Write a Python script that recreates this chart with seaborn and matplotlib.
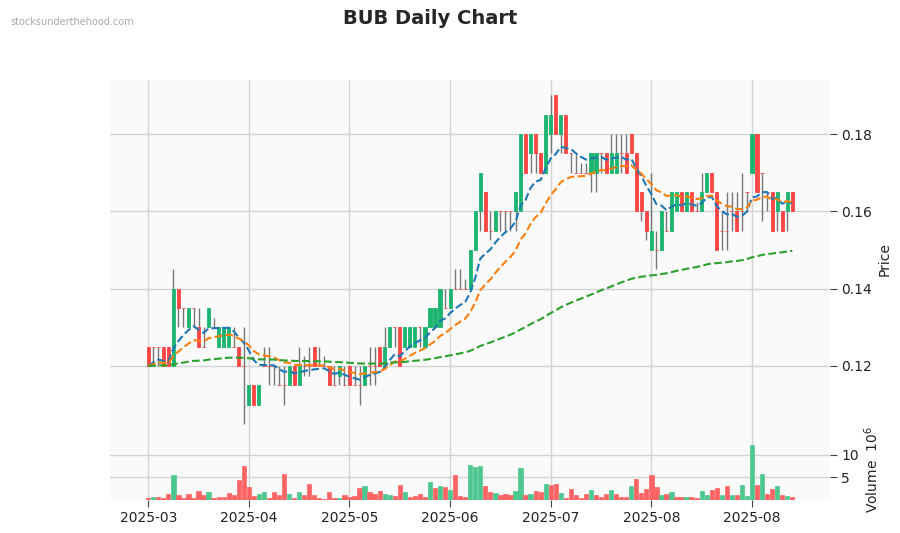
import numpy as np
import pandas as pd
import matplotlib
matplotlib.use("Agg")
import matplotlib.pyplot as plt
import seaborn as sns

# daily OHLC (one row per trading day)
opens = [0.125, 0.125, 0.125, 0.125, 0.125, 0.12, 0.14, 0.135, 0.13, 0.135,
         0.13, 0.125, 0.13, 0.13, 0.125, 0.125, 0.125, 0.125, 0.125, 0.12,
         0.11, 0.115, 0.11, 0.12, 0.12, 0.12, 0.115, 0.115, 0.115, 0.12,
         0.115, 0.12, 0.12, 0.125, 0.12, 0.12, 0.12, 0.115, 0.1175, 0.115,
         0.12, 0.115, 0.115, 0.115, 0.12, 0.12, 0.125, 0.12, 0.125, 0.13,
         0.13, 0.125, 0.125, 0.125, 0.13, 0.125, 0.13, 0.13, 0.13, 0.135,
         0.135, 0.14, 0.14, 0.14, 0.14, 0.15, 0.16, 0.165, 0.155, 0.155,
         0.16, 0.16, 0.16, 0.16, 0.16, 0.18, 0.175, 0.18, 0.175, 0.17,
         0.18, 0.19, 0.18, 0.185, 0.175, 0.17, 0.17, 0.17, 0.17, 0.17,
         0.175, 0.175, 0.17, 0.17, 0.175, 0.175, 0.18, 0.175, 0.165, 0.16,
         0.15, 0.15, 0.15, 0.155, 0.155, 0.16, 0.165, 0.16, 0.165, 0.16,
         0.16, 0.165, 0.17, 0.165, 0.155, 0.155, 0.16, 0.16, 0.16, 0.165,
         0.17, 0.18, 0.17, 0.165, 0.165, 0.16, 0.16, 0.16, 0.165]
highs = [0.125, 0.125, 0.125, 0.125, 0.125, 0.145, 0.14, 0.135, 0.135, 0.135,
         0.135, 0.13, 0.135, 0.1325, 0.13, 0.13, 0.13, 0.13, 0.125, 0.13,
         0.115, 0.115, 0.115, 0.125, 0.125, 0.12, 0.12, 0.12, 0.12, 0.12,
         0.125, 0.1225, 0.125, 0.125, 0.125, 0.1225, 0.12, 0.12, 0.12, 0.12,
         0.12, 0.12, 0.12, 0.12, 0.125, 0.125, 0.125, 0.13, 0.13, 0.13,
         0.13, 0.13, 0.13, 0.13, 0.13, 0.13, 0.135, 0.135, 0.14, 0.14,
         0.14, 0.145, 0.145, 0.1425, 0.15, 0.16, 0.17, 0.165, 0.16, 0.16,
         0.16, 0.16, 0.16, 0.165, 0.18, 0.18, 0.18, 0.18, 0.175, 0.185,
         0.19, 0.19, 0.185, 0.185, 0.175, 0.175, 0.1725, 0.1725, 0.175, 0.175,
         0.175, 0.175, 0.18, 0.18, 0.18, 0.18, 0.18, 0.175, 0.165, 0.16,
         0.17, 0.155, 0.16, 0.16, 0.165, 0.165, 0.165, 0.165, 0.165, 0.1625,
         0.17, 0.17, 0.17, 0.165, 0.16, 0.165, 0.165, 0.165, 0.17, 0.165,
         0.18, 0.18, 0.17, 0.165, 0.165, 0.165, 0.16, 0.165, 0.165]
lows = [0.12, 0.12, 0.12, 0.12, 0.12, 0.12, 0.13, 0.13, 0.13, 0.13,
        0.125, 0.125, 0.13, 0.13, 0.125, 0.125, 0.125, 0.125, 0.12, 0.105,
        0.11, 0.11, 0.11, 0.12, 0.115, 0.115, 0.115, 0.11, 0.115, 0.115,
        0.115, 0.1175, 0.1175, 0.12, 0.12, 0.12, 0.115, 0.115, 0.115, 0.115,
        0.115, 0.115, 0.11, 0.115, 0.115, 0.115, 0.12, 0.12, 0.125, 0.125,
        0.12, 0.125, 0.125, 0.125, 0.125, 0.125, 0.13, 0.13, 0.13, 0.135,
        0.135, 0.14, 0.14, 0.14, 0.14, 0.15, 0.155, 0.155, 0.1525, 0.155,
        0.155, 0.155, 0.155, 0.155, 0.16, 0.17, 0.17, 0.17, 0.17, 0.17,
        0.175, 0.18, 0.175, 0.175, 0.17, 0.17, 0.17, 0.17, 0.165, 0.165,
        0.17, 0.17, 0.17, 0.17, 0.17, 0.17, 0.175, 0.16, 0.1575, 0.1525,
        0.15, 0.145, 0.15, 0.155, 0.155, 0.16, 0.16, 0.16, 0.16, 0.16,
        0.16, 0.165, 0.165, 0.15, 0.15, 0.15, 0.155, 0.155, 0.155, 0.16,
        0.17, 0.165, 0.1575, 0.16, 0.155, 0.155, 0.155, 0.155, 0.16]
closes = [0.12, 0.125, 0.125, 0.12, 0.12, 0.14, 0.135, 0.135, 0.135, 0.135,
          0.125, 0.125, 0.135, 0.13, 0.13, 0.13, 0.13, 0.125, 0.12, 0.12,
          0.115, 0.11, 0.115, 0.12, 0.12, 0.12, 0.115, 0.115, 0.12, 0.115,
          0.12, 0.12, 0.12, 0.12, 0.12, 0.12, 0.115, 0.115, 0.12, 0.115,
          0.115, 0.115, 0.115, 0.12, 0.12, 0.12, 0.12, 0.125, 0.13, 0.13,
          0.12, 0.13, 0.13, 0.13, 0.13, 0.13, 0.135, 0.135, 0.14, 0.135,
          0.14, 0.14, 0.14, 0.14, 0.15, 0.16, 0.17, 0.155, 0.155, 0.16,
          0.16, 0.16, 0.16, 0.165, 0.18, 0.17, 0.18, 0.175, 0.17, 0.185,
          0.185, 0.18, 0.185, 0.175, 0.175, 0.17, 0.17, 0.17, 0.175, 0.175,
          0.175, 0.17, 0.175, 0.175, 0.175, 0.17, 0.175, 0.16, 0.16, 0.155,
          0.155, 0.15, 0.16, 0.155, 0.165, 0.165, 0.16, 0.165, 0.16, 0.16,
          0.165, 0.17, 0.165, 0.15, 0.155, 0.155, 0.16, 0.155, 0.16, 0.165,
          0.18, 0.165, 0.17, 0.165, 0.155, 0.165, 0.155, 0.165, 0.16]
# volume in millions of shares
volumes = [0.30, 0.52, 0.52, 0.30, 1.19, 5.52, 0.97, 0.37, 1.19, 0.30,
           1.87, 0.97, 1.64, 0.30, 0.67, 0.67, 1.42, 0.97, 4.33, 7.54,
           2.76, 0.82, 1.19, 1.72, 0.45, 1.72, 0.97, 5.75, 1.19, 0.30,
           1.64, 0.97, 3.51, 0.97, 0.30, 0.15, 1.72, 0.30, 0.30, 0.97,
           0.52, 0.82, 2.54, 3.06, 1.72, 1.19, 1.87, 1.19, 1.04, 0.82,
           3.21, 1.72, 0.52, 0.75, 1.19, 0.52, 3.88, 2.54, 2.99, 2.76,
           2.16, 5.45, 0.75, 0.52, 7.69, 7.24, 7.54, 3.06, 1.72, 1.49,
           0.97, 1.19, 0.97, 1.87, 7.01, 0.97, 1.19, 1.87, 1.72, 3.43,
           3.21, 3.43, 1.49, 0.30, 2.31, 0.97, 0.37, 1.19, 2.09, 0.97,
           0.52, 1.19, 2.09, 1.19, 0.52, 0.52, 3.06, 4.55, 1.49, 2.31,
           5.45, 2.76, 0.97, 1.19, 1.72, 0.52, 0.52, 0.52, 0.52, 0.30,
           1.87, 0.97, 2.09, 2.54, 0.97, 2.99, 0.97, 0.97, 3.21, 0.75,
           12.16, 3.21, 5.75, 1.19, 2.31, 2.99, 0.97, 0.75, 0.52]

tick_pos = [0, 20, 40, 60, 80, 100, 120]
tick_labels = ["2025-03", "2025-04", "2025-05", "2025-06", "2025-07", "2025-08", "2025-08"]
ma_spans = [10, 20, 130]
ma_colors = ["#1f77b4", "#ff7f0e", "#2ca02c"]

df = pd.DataFrame({"Open": opens, "High": highs, "Low": lows,
                   "Close": closes, "Volume": volumes})
df["i"] = np.arange(len(df))

up_col, down_col = "#1cb56f", "#fd4646"
vol_up, vol_down = "#4cc790", "#ff6464"

sns.set_style("whitegrid", {"axes.facecolor": "#fafafa", "grid.color": "#d3d3d3",
                            "axes.edgecolor": "#e6e6e6"})
plt.rcParams["font.family"] = ["DejaVu Sans"]

fig = plt.figure(figsize=(9, 5.33), dpi=100)
ax = fig.add_axes([0.1222, 0.1764, 0.8, 0.6735])
axv = fig.add_axes([0.1222, 0.0625, 0.8, 0.1139], sharex=ax)

# candles
is_up = df["Close"] > df["Open"]
ccol = np.where(is_up, up_col, down_col)
ax.vlines(df["i"], df["Low"], df["High"], color="#777777", linewidth=1.0, zorder=2)
body_lo = np.minimum(df["Open"], df["Close"])
body_h = (df["Close"] - df["Open"]).abs()
ax.bar(df["i"], body_h, bottom=body_lo, width=0.62, color=ccol,
       edgecolor=ccol, linewidth=0.6, zorder=3)

# moving averages
for span, col in zip(ma_spans, ma_colors):
    ema = df["Close"].ewm(span=span, adjust=False).mean()
    sns.lineplot(x=df["i"], y=ema, ax=ax, color=col, linestyle="--",
                 linewidth=1.5, zorder=4)

# volume, coloured by close vs previous close
vup = df["Close"].diff().fillna(0) > 0
vcol = np.where(vup, vol_up, vol_down)
axv.bar(df["i"], df["Volume"], width=0.85, color=vcol, edgecolor=vcol,
        linewidth=0.5, zorder=3)

ax.set_xlim(-7.6, 135.5)
ax.set_ylim(0.10112, 0.19397)
axv.set_ylim(0, 13.58)

ax.set_yticks([0.12, 0.14, 0.16, 0.18])
ax.set_yticklabels(["0.12", "0.14", "0.16", "0.18"])
axv.set_yticks([5, 10])
axv.set_yticklabels(["5", "10"])
axv.set_xticks(tick_pos)
axv.set_xticklabels(tick_labels)
ax.tick_params(axis="x", labelbottom=False, length=0)

for a in (ax, axv):
    a.yaxis.tick_right()
    a.yaxis.set_label_position("right")
    a.tick_params(axis="y", length=5, width=0.8, color="#444444",
                  labelsize=10, labelcolor="#222222", pad=3)
    a.grid(True, color="#d3d3d3", linewidth=1.0)
    a.set_axisbelow(True)
    for s in a.spines.values():
        s.set_visible(False)
    a.set_xlabel("")
axv.tick_params(axis="x", length=5, width=0.8, color="#444444", labelsize=10,
                labelcolor="#222222", pad=3, bottom=True)
ax.spines["bottom"].set_visible(True)
ax.spines["bottom"].set_color("#ececec")

ax.set_ylabel("Price", fontsize=10, labelpad=4, color="#222222")
axv.set_ylabel("Volume  $10^{6}$", fontsize=10, labelpad=3, color="#222222")

fig.text(0.478, 0.966, "BUB Daily Chart", ha="center", va="center",
         fontsize=14, fontweight="bold")
fig.text(0.012, 0.958, "stocksunderthehood.com", ha="left", va="center",
         fontsize=7, color="#aaaaaa")

fig.savefig("out.png", dpi=100)
